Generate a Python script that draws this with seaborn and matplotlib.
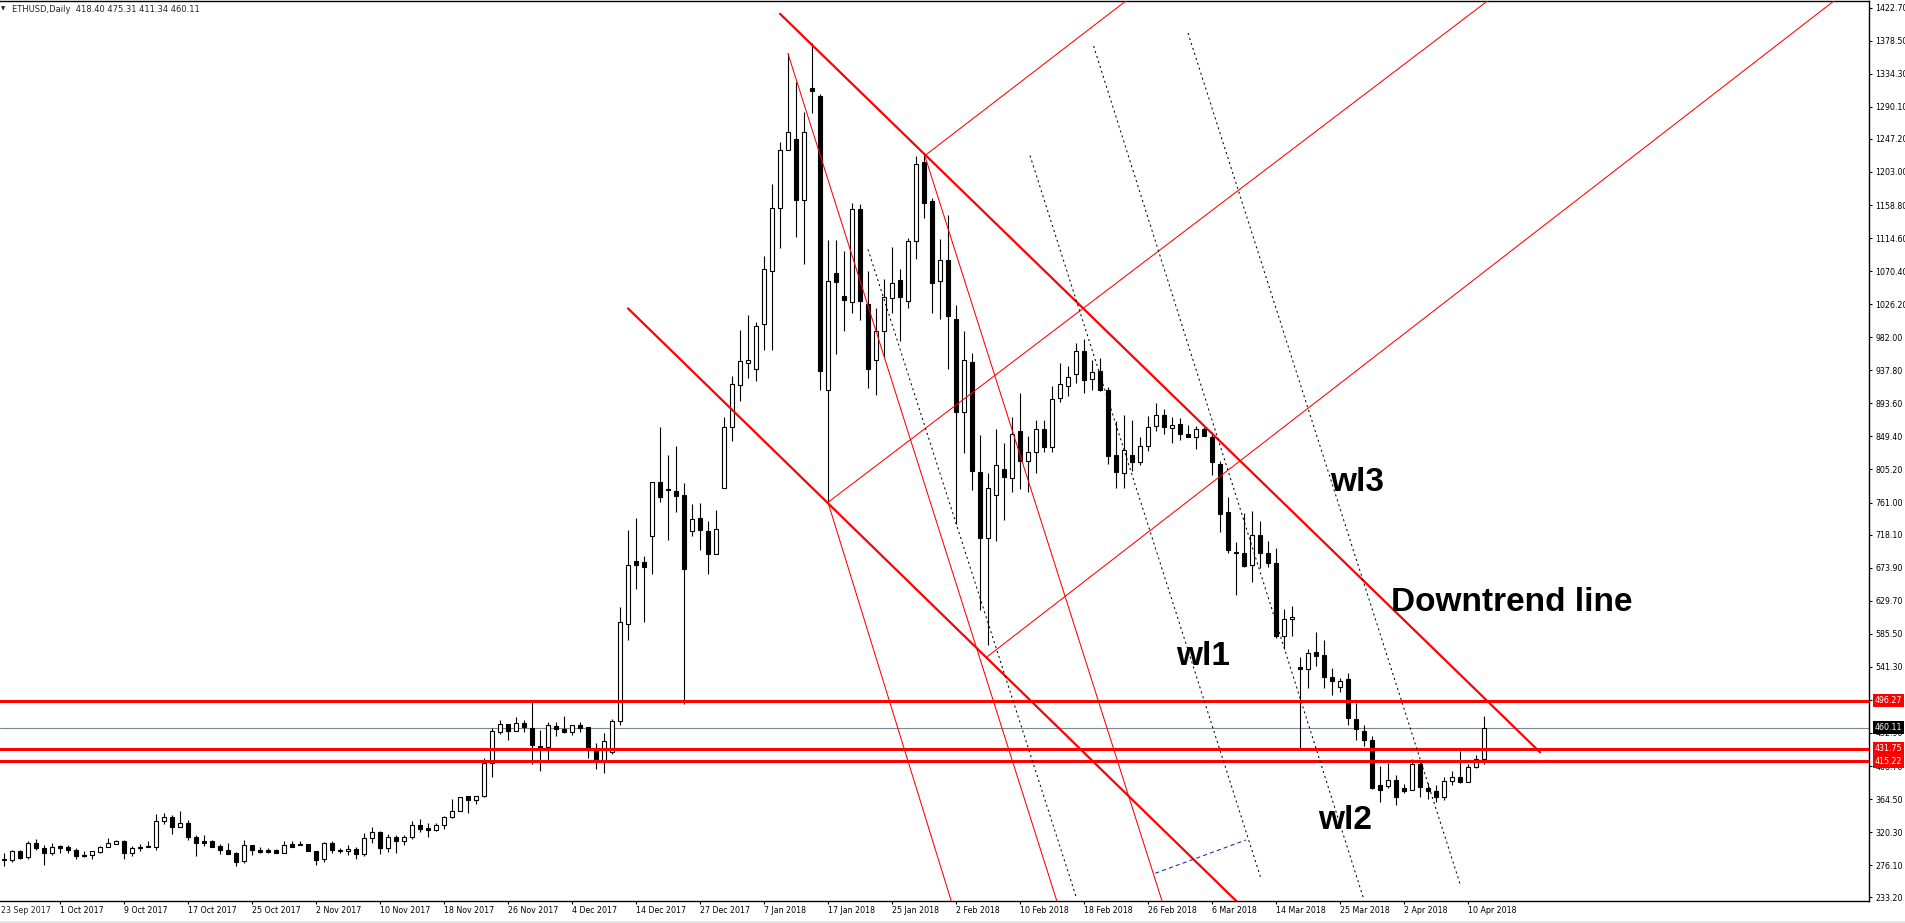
import numpy as np
import pandas as pd
import matplotlib
matplotlib.use("Agg")
import matplotlib.pyplot as plt
import matplotlib.transforms as mtransforms
import seaborn as sns

# ================================
# Data (one slot per daily bar)
# ================================
opens = [283, 283, 295, 287, 306, 299, 293, 302, 300, 296, 290, 290, 294, 301, 305, 309, 293, 299, 301, 301,
         335, 341, 327, 332, 314, 308, 308, 302, 297, 292, 282, 303, 297, 296, 296, 293, 304, 305, 305, 295,
         284, 306, 297, 295, 298, 291, 312, 321, 299, 314, 309, 314, 330, 326, 323, 330, 341, 349, 368, 363,
         368, 413, 454, 465, 455, 466, 460, 434, 434, 462, 458, 454, 464, 461, 431, 417, 428, 469, 598, 683,
         681, 716, 788, 778, 777, 771, 723, 741, 723, 692, 781, 862, 918, 947, 940, 1000, 1070, 1155, 1233, 1247,
         1166, 1315, 1304, 911, 1068, 1037, 1029, 1154, 1027, 951, 991, 1034, 1058, 1031, 1111, 1216, 1164, 1057, 1085, 1006,
         882, 949, 802, 713, 771, 806, 794, 857, 816, 829, 859, 835, 901, 917, 933, 963, 926, 937, 911, 824,
         800, 825, 815, 836, 863, 878, 861, 866, 853, 849, 860, 849, 813, 748, 695, 694, 677, 717, 693, 680,
         582, 605, 541, 539, 561, 557, 528, 515, 525, 472, 456, 444, 383, 382, 390, 379, 376, 412, 380, 375,
         367, 389, 394, 388, 408, 418.40]
highs = [292, 297, 296, 309, 311, 303, 306, 303, 303, 299, 295, 295, 302, 313, 310, 310, 302, 304, 308, 344,
         346, 343, 348, 336, 317, 316, 310, 304, 306, 294, 310, 303, 300, 299, 298, 309, 309, 309, 305, 295,
         307, 308, 299, 303, 300, 319, 327, 322, 318, 316, 317, 335, 338, 333, 333, 342, 364, 367, 369, 369,
         420, 460, 470, 465, 474, 470, 494, 457, 468, 468, 476, 464, 468, 461, 439, 453, 471, 622, 724, 741,
         690, 788, 862, 824, 837, 787, 759, 761, 736, 751, 875, 930, 992, 1012, 1003, 1090, 1187, 1243, 1362, 1323,
         1283, 1375, 1307, 1112, 1112, 1098, 1162, 1160, 1071, 1021, 1060, 1103, 1073, 1115, 1224, 1227, 1168, 1113, 1145, 1025,
         990, 961, 851, 801, 859, 840, 876, 907, 850, 872, 872, 917, 947, 944, 974, 980, 952, 954, 915, 870,
         878, 872, 849, 877, 894, 886, 875, 874, 865, 864, 862, 855, 817, 769, 708, 747, 750, 736, 710, 700,
         619, 623, 555, 565, 588, 577, 540, 526, 533, 493, 463, 449, 409, 413, 397, 385, 418, 417, 386, 384,
         394, 402, 429, 412, 423, 475.31]
lows = [275, 280, 285, 285, 296, 276, 290, 293, 293, 285, 287, 285, 293, 300, 304, 285, 289, 295, 300, 296,
        331, 318, 327, 310, 289, 302, 300, 291, 291, 275, 279, 290, 293, 292, 293, 293, 300, 303, 295, 277,
        280, 293, 292, 290, 285, 288, 306, 291, 294, 293, 303, 311, 320, 314, 322, 324, 339, 349, 346, 358,
        367, 394, 451, 443, 455, 454, 412, 402, 417, 449, 453, 450, 454, 420, 405, 400, 425, 464, 577, 645,
        601, 665, 762, 711, 748, 491, 716, 698, 665, 692, 780, 843, 897, 928, 923, 965, 965, 1101, 1232, 1116,
        1080, 1282, 912, 762, 960, 990, 1015, 1005, 914, 905, 955, 1015, 977, 1021, 1086, 1142, 1015, 1006, 940, 732,
        827, 778, 618, 570, 710, 738, 775, 779, 775, 800, 828, 828, 896, 904, 921, 908, 912, 910, 812, 781,
        781, 803, 811, 830, 857, 853, 841, 845, 849, 833, 850, 798, 721, 693, 638, 675, 655, 673, 675, 580,
        565, 582, 433, 513, 542, 513, 504, 508, 464, 444, 436, 378, 360, 380, 357, 372, 376, 367, 364, 360,
        363, 384, 386, 387, 406, 411.34]
closes = [285, 295, 286, 306, 299, 293, 301, 299, 296, 288, 288, 295, 301, 306, 308, 292, 299, 301, 302, 335,
          341, 327, 332, 314, 306, 306, 301, 296, 291, 281, 303, 296, 294, 294, 293, 303, 301, 303, 295, 283,
          306, 296, 295, 298, 291, 312, 321, 299, 314, 309, 314, 330, 325, 323, 330, 341, 349, 367, 363, 369,
          413, 456, 465, 455, 466, 461, 437, 435, 464, 458, 454, 464, 460, 433, 417, 442, 469, 601, 678, 678,
          675, 788, 769, 779, 770, 672, 739, 724, 692, 726, 862, 920, 950, 951, 997, 1073, 1155, 1232, 1257, 1165,
          1256, 1311, 937, 1057, 1056, 1032, 1154, 1030, 940, 991, 1036, 1055, 1036, 1111, 1213, 1161, 1055, 1085, 1010, 882,
          951, 803, 714, 781, 811, 795, 853, 816, 829, 860, 835, 900, 919, 929, 963, 925, 936, 911, 823, 802,
          831, 815, 837, 862, 878, 862, 865, 853, 849, 860, 850, 815, 746, 698, 693, 676, 718, 693, 680, 582,
          605, 608, 539, 560, 556, 528, 522, 522, 473, 458, 443, 380, 377, 390, 367, 375, 412, 381, 375, 367,
          389, 394, 387, 408, 418, 460.11]

x_tick_bars = list(range(7, 184, 8))
x_tick_labels = ["1 Oct 2017", "9 Oct 2017", "17 Oct 2017", "25 Oct 2017", "2 Nov 2017", "10 Nov 2017",
                 "18 Nov 2017", "26 Nov 2017", "4 Dec 2017", "14 Dec 2017", "27 Dec 2017", "7 Jan 2018",
                 "17 Jan 2018", "25 Jan 2018", "2 Feb 2018", "10 Feb 2018", "18 Feb 2018", "26 Feb 2018",
                 "6 Mar 2018", "14 Mar 2018", "25 Mar 2018", "2 Apr 2018", "10 Apr 2018"]
first_label = "23 Sep 2017"

y_ticks = [1422.70, 1378.50, 1334.30, 1290.10, 1247.20, 1203.00, 1158.80, 1114.60, 1070.40, 1026.20,
           982.00, 937.80, 893.60, 849.40, 805.20, 761.00, 718.10, 673.90, 629.70, 585.50, 541.30,
           497.10, 452.90, 408.70, 364.50, 320.30, 276.10, 233.20]

levels = [496.27, 431.75, 415.22]
last_price = 460.11
header = "ETHUSD,Daily  418.40 475.31 411.34 460.11"

# trend lines as (bar, price) end points
channel_lines = [((97.0, 1414.5), (192.0, 427.2)),
                 ((78.0, 1020.6), (154.5, 223.4))]
rising_lines = [((115.1, 1224.8), (140.4, 1433.0)),
                ((103.0, 761.3), (185.6, 1433.0)),
                ((122.9, 554.9), (228.9, 1433.0))]
falling_lines = [((98.0, 1361.2), (131.7, 225.0)),
                 ((103.0, 761.3), (118.5, 225.0)),
                 ((115.1, 1224.8), (144.85, 225.0))]
dotted_lines = [((108.0, 1099.5), (134.1, 230.9)),
                ((128.25, 1225.0), (157.05, 260.7)),
                ((136.2, 1371.4), (170.0, 229.6)),
                ((148.0, 1388.8), (182.05, 249.6))]
blue_line = ((143.9, 265.3), (155.25, 309.8))

notes = [("wl3", 165.8, 776.6), ("Downtrend line", 173.4, 615.7),
         ("wl1", 146.55, 543.5), ("wl2", 164.2, 325.1)]

df = pd.DataFrame({"open": opens, "high": highs, "low": lows, "close": closes})
df["bar"] = np.arange(len(df))
df["up"] = df["close"] >= df["open"]

# ================================
# Figure
# ================================
sns.set_theme(style="white")
plt.rcParams["font.family"] = ["DejaVu Sans"]

W, H = 1905, 923
fig = plt.figure(figsize=(W / 100, H / 100), dpi=100)
ax = fig.add_axes([0, 1 - 901 / H, 1869 / W, 900 / H])
ax.set_facecolor("white")

ax.set_xlim(-0.5, 233.125)
ax.set_ylim(228.25, 1431.6)

# bid line behind the candles
ax.axhline(last_price, color="#778899", lw=0.8, zorder=1)

# candles
ax.vlines(df["bar"], df["low"], df["high"], color="black", lw=0.8, zorder=3)
body_low = df[["open", "close"]].min(axis=1)
body_h = (df["close"] - df["open"]).abs().clip(lower=0.3)
fills = np.where(df["up"], "white", "black")
ax.bar(df["bar"], body_h, bottom=body_low, width=0.5, color=fills,
       edgecolor="black", linewidth=0.8, zorder=4)

# horizontal levels
for lv in levels:
    ax.axhline(lv, color="#ff0000", lw=2.2, zorder=6)

for (x0, y0), (x1, y1) in channel_lines:
    ax.plot([x0, x1], [y0, y1], color="#ff0000", lw=1.6, zorder=6)
for (x0, y0), (x1, y1) in rising_lines + falling_lines:
    ax.plot([x0, x1], [y0, y1], color="#ff0000", lw=0.75, zorder=6)
for (x0, y0), (x1, y1) in dotted_lines:
    ax.plot([x0, x1], [y0, y1], color="black", lw=0.75, ls=(0, (2, 3)), zorder=6)
(bx0, by0), (bx1, by1) = blue_line
ax.plot([bx0, bx1], [by0, by1], color="#2020a0", lw=0.75, ls=(0, (4, 3)), zorder=6)

for txt, bx, py in notes:
    ax.text(bx, py, txt, fontsize=24, fontweight="bold", color="black",
            family=["Liberation Sans", "DejaVu Sans"], ha="left", va="baseline", zorder=7)

# axes styling like the terminal
ax.spines["left"].set_visible(False)
for side in ["right", "bottom", "top"]:
    ax.spines[side].set_color("black")
    ax.spines[side].set_linewidth(1.0)

ax.yaxis.tick_right()
ax.set_yticks(y_ticks)
ax.set_yticklabels([f"{v:.2f}" for v in y_ticks])
ax.tick_params(axis="y", direction="out", length=2.2, width=0.8, pad=2.5,
               labelsize=5.7, colors="black", right=True, left=False)

ax.set_xticks(x_tick_bars)
ax.set_xticklabels(x_tick_labels)
ax.tick_params(axis="x", direction="out", length=2.2, width=0.8, pad=1.5,
               labelsize=5.7, colors="black", bottom=True)
for lbl in ax.get_xticklabels():
    lbl.set_ha("left")

# first date label sits left of the first bar; keep it inside the picture
off = mtransforms.offset_copy(ax.transAxes, fig=fig, x=1, y=-5, units="dots")
ax.text(0, 0, first_label, transform=off, fontsize=5.7, ha="left", va="top", clip_on=False)

# price boxes on the scale
ytr = ax.get_yaxis_transform()
for lv in levels:
    ax.text(1.0 + 6 / 1869, lv, f"{lv:.2f}", transform=ytr, fontsize=5.7, color="white",
            ha="left", va="center", clip_on=False, zorder=10,
            bbox=dict(boxstyle="square,pad=0.25", facecolor="#ff0000", edgecolor="none"))
ax.text(1.0 + 6 / 1869, last_price, f"{last_price:.2f}", transform=ytr, fontsize=5.7, color="white",
        ha="left", va="center", clip_on=False, zorder=10,
        bbox=dict(boxstyle="square,pad=0.25", facecolor="black", edgecolor="none"))

# header
fig.text(1 / W, 1 - 9 / H, "\u25bc", fontsize=4, ha="left", va="center")
fig.text(12 / W, 1 - 9 / H, header, fontsize=6, ha="left", va="center")

# bottom window strip
fig.patches.append(plt.Rectangle((0, 0), 1, 2 / H, transform=fig.transFigure,
                                 facecolor="#e6e6e6", edgecolor="none"))

fig.savefig("out.png", dpi=100)
